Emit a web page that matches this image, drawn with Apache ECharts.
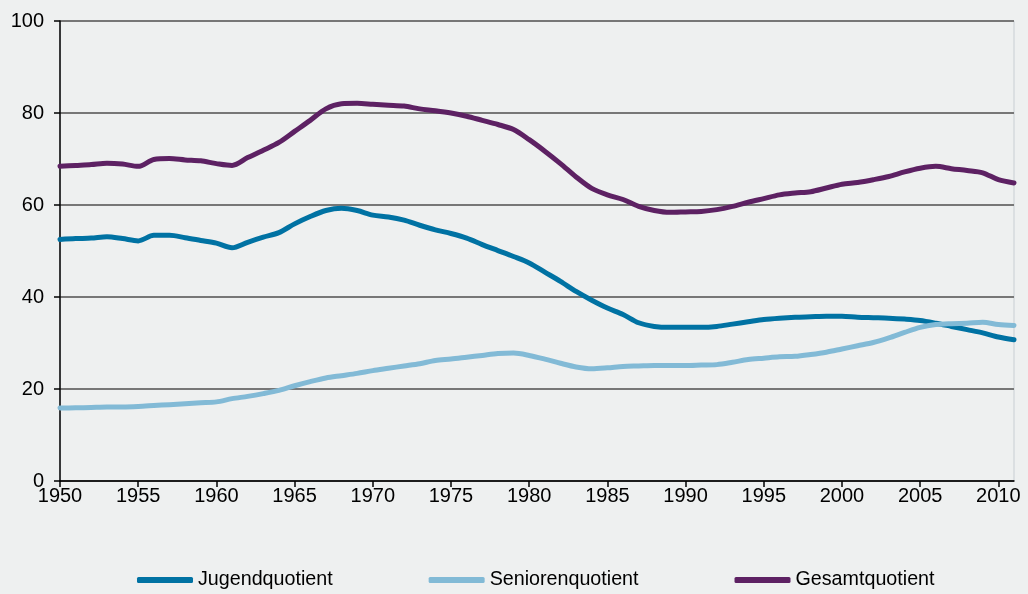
<!DOCTYPE html>
<html>
<head>
<meta charset="utf-8">
<script src="https://cdn.jsdelivr.net/npm/echarts@6/dist/echarts.min.js"></script>
<style>
  html, body { margin: 0; padding: 0; background: #eef0f0; }
  #chart { width: 1028px; height: 594px; }
</style>
</head>
<body>
<div id="chart"></div>
<script>
// Jahre 1950 - 2011
const years = []
for (let y = 1950; y <= 2011; y++) years.push(y)

const tickYears = [1950, 1955, 1960, 1965, 1970, 1975, 1980, 1985, 1990, 1995, 2000, 2005, 2010]

const jugend = [
  52.5, 52.7, 52.8, 53.1, 52.7, 52.2, 53.4, 53.4, 52.9, 52.3,
  51.7, 50.7, 51.9, 53.0, 54.0, 55.9, 57.5, 58.8, 59.3, 58.8,
  57.8, 57.4, 56.7, 55.6, 54.6, 53.8, 52.8, 51.4, 50.1, 48.8,
  47.4, 45.4, 43.4, 41.2, 39.3, 37.6, 36.2, 34.4, 33.6, 33.4,
  33.4, 33.4, 33.6, 34.1, 34.6, 35.1, 35.4, 35.6, 35.7, 35.8,
  35.8, 35.6, 35.5, 35.4, 35.2, 34.9, 34.3, 33.6, 32.9, 32.2,
  31.3, 30.7
]

const senioren = [
  15.85, 15.9, 16.0, 16.1, 16.1, 16.2, 16.4, 16.6, 16.8, 17.0,
  17.2, 17.9, 18.4, 19.0, 19.7, 20.7, 21.6, 22.4, 22.9, 23.4,
  24.0, 24.5, 25.0, 25.5, 26.2, 26.5, 26.9, 27.3, 27.7, 27.8,
  27.3, 26.5, 25.6, 24.8, 24.4, 24.6, 24.9, 25.0, 25.1, 25.1,
  25.1, 25.2, 25.3, 25.8, 26.4, 26.7, 27.0, 27.1, 27.5, 28.0,
  28.7, 29.4, 30.1, 31.1, 32.3, 33.4, 34.0, 34.2, 34.3, 34.5,
  34.0, 33.8
]

const gesamt = [
  68.4, 68.6, 68.8, 69.1, 68.9, 68.4, 69.9, 70.1, 69.8, 69.6,
  69.0, 68.6, 70.3, 71.9, 73.6, 76.0, 78.4, 80.9, 82.0, 82.1,
  81.9, 81.7, 81.5, 80.9, 80.5, 80.0, 79.3, 78.4, 77.5, 76.4,
  74.2, 71.7, 69.0, 66.1, 63.6, 62.2, 61.2, 59.7, 58.8, 58.4,
  58.5, 58.6, 59.0, 59.7, 60.6, 61.4, 62.2, 62.6, 62.9, 63.7,
  64.5, 64.9, 65.5, 66.2, 67.2, 68.0, 68.4, 67.9, 67.5, 67.0,
  65.5, 64.8
]

const pairs = arr => years.map((y, i) => [y, arr[i]])

const chart = echarts.init(document.getElementById('chart'))
const font = "'Liberation Sans', Arial, sans-serif"

const lineSeries = (name, data, color) => ({
  name: name,
  type: 'line',
  data: pairs(data),
  showSymbol: false,
  smooth: 0.3,
  lineStyle: { color: color, width: 5, cap: 'round', join: 'round' },
  itemStyle: { color: color }
})

chart.setOption({
  backgroundColor: '#eef0f0',
  animation: false,
  textStyle: { fontFamily: font },
  grid: {
    left: 60,
    right: 14,
    top: 21,
    bottom: 113,
    show: true,
    borderColor: '#c8ced3',
    borderWidth: 1,
    backgroundColor: 'transparent'
  },
  legend: {
    left: 132,
    top: 565,
    itemWidth: 56,
    itemHeight: 6,
    itemGap: 96,
    icon: 'roundRect',
    textStyle: { color: '#000', fontSize: 19.7, fontFamily: font },
    data: ['Jugendquotient', 'Seniorenquotient', 'Gesamtquotient']
  },
  xAxis: {
    type: 'value',
    min: 1950,
    max: 2011,
    interval: 5,
    axisLine: { show: true, lineStyle: { color: '#000', width: 1.5 } },
    axisTick: { show: true, length: 6, customValues: tickYears, lineStyle: { color: '#000', width: 1.5 } },
    axisLabel: {
      color: '#000', fontSize: 20, margin: 5, customValues: tickYears, fontFamily: font,
      formatter: v => String(v)
    },
    splitLine: { show: false }
  },
  yAxis: {
    type: 'value',
    min: 0,
    max: 100,
    interval: 20,
    axisLine: { show: true, lineStyle: { color: '#000', width: 1.5 } },
    axisTick: { show: true, length: 6, lineStyle: { color: '#000', width: 1.5 } },
    axisLabel: { color: '#000', fontSize: 20, margin: 16, fontFamily: font },
    splitLine: { show: true, lineStyle: { color: '#777', width: 2.2 } }
  },
  series: [
    lineSeries('Jugendquotient', jugend, '#0072a3'),
    lineSeries('Seniorenquotient', senioren, '#82bad6'),
    lineSeries('Gesamtquotient', gesamt, '#5d2163')
  ]
})
</script>
</body>
</html>
